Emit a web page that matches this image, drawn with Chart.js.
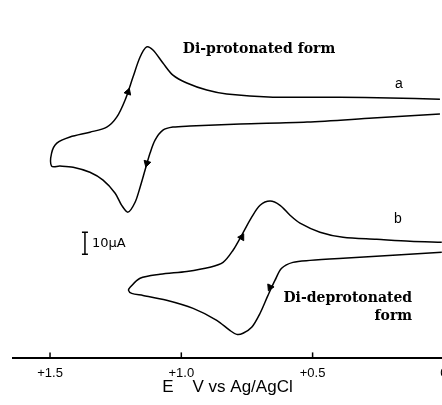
<!DOCTYPE html>
<html>
<head>
<meta charset="utf-8">
<script src="https://cdn.jsdelivr.net/npm/chart.js@4"></script>
<style>
  html, body { margin: 0; padding: 0; background: #fff; overflow: hidden; }
</style>
</head>
<body>
<canvas id="cv" width="442" height="405"></canvas>
<script>
// Cyclic voltammograms, E in V vs Ag/AgCl, current in uA (offset, traces stacked)
// curve a: cathodic branch right->left, then anodic branch left->right
const aE = [0.015, 0.270, 0.521, 0.776, 0.967, 1.032, 1.070, 1.100, 1.119, 1.138, 1.157, 1.176, 1.203, 1.227, 1.252, 1.298, 1.348, 1.412, 1.462, 1.494,
            1.494, 1.474, 1.424, 1.348, 1.284, 1.246, 1.214, 1.184, 1.157, 1.132, 1.108, 1.070, 1.032, 0.979, 0.903, 0.827, 0.651, 0.396, 0.205, 0.015];
const aI = [110.9, 109.1, 107.3, 106.4, 105.5, 105.0, 103.6, 99.1, 93.2, 85.5, 77.7, 70.9, 66.4, 69.5, 75.0, 80.9, 84.5, 86.8, 87.3, 87.3,
            93.2, 97.7, 100.5, 102.7, 105.0, 109.5, 117.3, 127.7, 136.8, 141.4, 140.0, 134.1, 128.6, 125.0, 121.8, 120.0, 118.6, 118.6, 118.2, 117.7];
// curve b
const bE = [0.008, 0.194, 0.384, 0.510, 0.575, 0.618, 0.643, 0.670, 0.700, 0.732, 0.765, 0.789, 0.815, 0.865, 0.955, 1.056, 1.146, 1.189, 1.201,
            1.195, 1.157, 1.081, 0.979, 0.891, 0.841, 0.803, 0.770, 0.732, 0.700, 0.662, 0.624, 0.586, 0.548, 0.472, 0.384, 0.256, 0.129, 0.008];
const bI = [48.2, 46.8, 45.5, 44.5, 43.6, 40.9, 35.5, 28.6, 20.5, 14.1, 11.4, 10.9, 12.7, 17.3, 22.7, 26.4, 28.6, 29.5, 30.9,
            32.3, 36.4, 38.2, 39.5, 41.4, 43.6, 49.1, 55.9, 64.1, 69.5, 71.4, 69.5, 65.0, 61.4, 57.3, 55.0, 54.1, 53.2, 52.7];
// scan direction arrows
const arrowE = [1.203, 1.131, 0.770, 0.662];
const arrowI = [120.9, 88.6, 55.0, 32.3];
const arrowDir = [19, 196, 30, 205];

const xTicks = [1.5, 1.0, 0.5, 0];
const xTickLabels = ['+1.5', '+1.0', '+0.5', '0'];

const pts = (xs, ys) => xs.map((x, i) => ({ x, y: ys[i] }));

// inward tick marks, scale bar and text labels
const extras = {
  id: 'extras',
  afterDraw(chart) {
    const { ctx, scales: { x, y } } = chart;
    const bottom = chart.chartArea.bottom;
    ctx.save();
    ctx.strokeStyle = '#000';
    ctx.fillStyle = '#000';
    ctx.lineWidth = 1.5;
    xTicks.forEach(v => {
      const px = x.getPixelForValue(v);
      ctx.beginPath(); ctx.moveTo(px, bottom); ctx.lineTo(px, bottom - 6); ctx.stroke();
    });

    // 10 uA bar
    const bx = x.getPixelForValue(1.367);
    const y0 = y.getPixelForValue(47.3), y1 = y.getPixelForValue(57.3);
    ctx.beginPath();
    ctx.moveTo(bx, y0); ctx.lineTo(bx, y1);
    ctx.moveTo(bx - 3, y0); ctx.lineTo(bx + 3, y0);
    ctx.moveTo(bx - 3, y1); ctx.lineTo(bx + 3, y1);
    ctx.stroke();

    ctx.textBaseline = 'middle';
    ctx.font = '13px "DejaVu Sans"';
    ctx.textAlign = 'left';
    ctx.fillText('10µA', x.getPixelForValue(1.340), y.getPixelForValue(52.3));

    ctx.font = '14px "Liberation Sans"';
    ctx.textAlign = 'center';
    ctx.fillText('a', x.getPixelForValue(0.171), y.getPixelForValue(124.6));
    ctx.fillText('b', x.getPixelForValue(0.175), y.getPixelForValue(63));

    ctx.font = 'bold 14px "DejaVu Serif"';
    ctx.fillText('Di-protonated form', x.getPixelForValue(0.704), y.getPixelForValue(140.2));
    ctx.textAlign = 'right';
    ctx.fillText('Di-deprotonated', x.getPixelForValue(0.121), y.getPixelForValue(27.4));
    ctx.fillText('form', x.getPixelForValue(0.121), y.getPixelForValue(19.2));
    ctx.restore();
  }
};

const lineStyle = { showLine: true, borderColor: '#000', borderWidth: 1.5, pointRadius: 0, tension: 0.3, fill: false };

new Chart(document.getElementById('cv'), {
  type: 'scatter',
  data: {
    datasets: [
      { label: 'a', data: pts(aE, aI), ...lineStyle },
      { label: 'b', data: pts(bE, bI), ...lineStyle },
      { label: 'arrows', data: pts(arrowE, arrowI), showLine: false, pointStyle: 'triangle',
        pointRadius: 4, pointRotation: arrowDir, backgroundColor: '#000', borderColor: '#000', borderWidth: 1 }
    ]
  },
  options: {
    responsive: false,
    animation: false,
    events: [],
    layout: { autoPadding: false, padding: { left: 13, right: 0, top: 0, bottom: 9 } },
    plugins: { legend: { display: false }, tooltip: { enabled: false } },
    scales: {
      x: {
        type: 'linear', reverse: true, min: 0.0072, max: 1.641,
        afterBuildTicks: s => { s.ticks = xTicks.map(v => ({ value: v })); },
        afterFit: s => { s.paddingLeft = 0; s.paddingRight = 0; },
        ticks: {
          callback: (v, i) => xTickLabels[i],
          font: { family: 'Liberation Sans', size: 13 }, color: '#000',
          padding: 7, maxRotation: 0, autoSkip: false
        },
        grid: { display: false, drawTicks: false, tickLength: 0 },
        border: { display: true, color: '#000', width: 2 },
        title: {
          display: true, text: 'E    V vs Ag/AgCl', color: '#000',
          font: { family: 'Liberation Sans', size: 17, lineHeight: 1 }, padding: { top: -9, bottom: 0 }
        }
      },
      y: { display: false, min: 0, max: 162.7 }
    }
  },
  plugins: [extras]
});
</script>
</body>
</html>
